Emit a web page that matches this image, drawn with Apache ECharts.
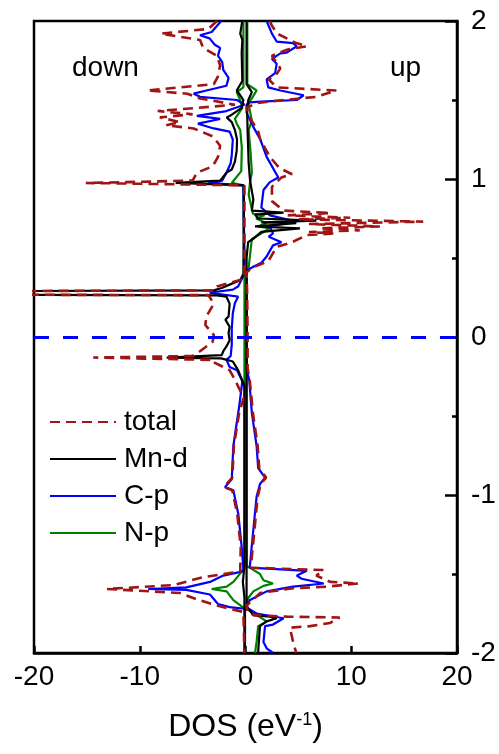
<!DOCTYPE html>
<html>
<head>
<meta charset="utf-8">
<script src="https://cdn.jsdelivr.net/npm/echarts/dist/echarts.min.js"></script>
<style>
  html, body { margin: 0; padding: 0; background: #fff; }
  #container { width: 499px; height: 754px; }
</style>
</head>
<body>
<div id="container"></div>
<script>
// DOS curves, each point is [DOS (eV^-1), energy (eV)], ordered from top to bottom
var totalUp = [[2.3, 2.0], [2.5, 1.97], [3.0, 1.92], [4.8, 1.86], [5.8, 1.84], [4.0, 1.82], [2.5, 1.78], [3.3, 1.70], [2.9, 1.66], [2.2, 1.63], [2.95, 1.58], [8.6, 1.56], [6.7, 1.52], [3.6, 1.50], [1.0, 1.48], [0.1, 1.45], [0.4, 1.39], [1.2, 1.30], [1.4, 1.25], [2.3, 1.14], [3.2, 1.07], [4.4, 1.03], [3.4, 1.01], [2.5, 0.95], [2.5, 0.86], [3.6, 0.80], [8.0, 0.785], [4.0, 0.77], [9.9, 0.755], [5.0, 0.745], [16.8, 0.73], [6.0, 0.715], [12.7, 0.70], [7.0, 0.688], [10.8, 0.675], [6.0, 0.665], [8.3, 0.655], [5.8, 0.645], [4.4, 0.60], [2.95, 0.57], [2.15, 0.48], [0.7, 0.44], [0.1, 0.41], [0.15, 0.3], [0.2, 0.0], [0.2, -0.2], [0.4, -0.27], [0.7, -0.48], [1.15, -0.69], [1.3, -0.83], [1.95, -0.89], [1.45, -0.93], [1.15, -1.01], [0.85, -1.22], [0.5, -1.46], [7.4, -1.475], [6.7, -1.51], [8.0, -1.55], [10.7, -1.56], [7.7, -1.58], [4.5, -1.59], [1.4, -1.62], [0.1, -1.70], [0.2, -1.74], [0.74, -1.76], [3.9, -1.77], [8.9, -1.775], [8.0, -1.81], [6.1, -1.83], [4.2, -1.84], [4.5, -1.93], [4.8, -2.0]];
var totalDown = [[-2.7, 2.0], [-3.5, 1.95], [-8.0, 1.92], [-4.3, 1.88], [-4.0, 1.83], [-2.7, 1.78], [-2.4, 1.72], [-2.6, 1.65], [-3.0, 1.60], [-9.3, 1.56], [-5.5, 1.54], [-4.3, 1.51], [-1.0, 1.47], [-8.3, 1.43], [-5.0, 1.41], [-8.1, 1.39], [-6.2, 1.36], [-7.5, 1.34], [-4.9, 1.32], [-3.1, 1.27], [-2.4, 1.21], [-2.6, 1.14], [-3.1, 1.08], [-4.6, 1.04], [-5.0, 0.99], [-15.1, 0.975], [-0.1, 0.96], [-0.1, 0.37], [-0.5, 0.36], [-2.7, 0.32], [-3.0, 0.295], [-26, 0.29], [-26, 0.268], [-3.5, 0.265], [-3.0, 0.21], [-3.7, 0.13], [-3.8, 0.076], [-3.0, 0.013], [-3.1, -0.03], [-4.3, -0.09], [-5.0, -0.12], [-14.4, -0.13], [-3.0, -0.145], [-3.0, -0.16], [-1.5, -0.21], [-1.0, -0.27], [-0.5, -0.34], [-0.2, -0.39], [-0.6, -0.48], [-1.1, -0.69], [-1.25, -0.89], [-2.05, -0.95], [-1.25, -0.97], [-0.78, -1.12], [-0.45, -1.33], [-0.5, -1.485], [-4.0, -1.52], [-6.8, -1.57], [-13.1, -1.595], [-6.2, -1.62], [-4.6, -1.66], [-2.7, -1.70], [-1.5, -1.72], [-0.2, -1.74], [-0.1, -2.0]];

var mnUp = [[0.1, 2.0], [0.1, 1.6], [0.6, 1.55], [0.27, 1.50], [0.15, 1.45], [0.2, 1.3], [0.3, 1.1], [0.43, 0.99], [0.74, 0.87], [0.6, 0.80], [3.6, 0.787], [0.9, 0.775], [1.2, 0.75], [6.7, 0.736], [1.5, 0.725], [4.8, 0.72], [0.9, 0.70], [5.15, 0.688], [1.5, 0.665], [0.7, 0.62], [0.25, 0.60], [0.1, 0.5], [0.1, -1.7], [0.27, -1.72], [0.74, -1.76], [2.3, -1.77], [2.95, -1.78], [2.0, -1.80], [1.37, -1.83], [1.2, -1.99], [1.2, -2.0]];
var mnDown = [[-0.3, 2.0], [-0.5, 1.92], [-0.3, 1.88], [-0.36, 1.80], [-0.3, 1.62], [-0.83, 1.56], [-0.5, 1.53], [-0.2, 1.50], [-0.36, 1.45], [-1.47, 1.40], [-1.78, 1.39], [-1.3, 1.36], [-1.0, 1.31], [-0.8, 1.25], [-0.83, 1.18], [-1.0, 1.11], [-1.3, 1.06], [-1.8, 1.04], [-2.4, 0.99], [-6.6, 0.975], [-0.15, 0.96], [-0.2, 0.40], [-0.5, 0.36], [-2.25, 0.31], [-3.0, 0.295], [-26, 0.29], [-26, 0.268], [-2.7, 0.264], [-1.8, 0.255], [-1.5, 0.21], [-1.6, 0.13], [-1.9, 0.11], [-1.5, 0.065], [-1.6, 0.025], [-1.5, -0.02], [-1.8, -0.06], [-2.1, -0.09], [-2.25, -0.115], [-7.45, -0.13], [-2.3, -0.135], [-1.2, -0.155], [-0.7, -0.21], [-0.1, -0.31], [-0.1, -1.45], [-0.25, -1.55], [-0.1, -1.65], [-0.1, -2.0]];

var cUp = [[2.0, 2.0], [2.5, 1.92], [2.95, 1.87], [4.5, 1.86], [4.85, 1.84], [3.9, 1.80], [3.3, 1.795], [2.5, 1.76], [2.95, 1.73], [2.8, 1.67], [2.0, 1.63], [2.15, 1.58], [3.3, 1.56], [5.5, 1.53], [4.85, 1.50], [1.4, 1.49], [0.4, 1.485], [0.1, 1.47], [0.1, 1.42], [0.74, 1.33], [1.4, 1.25], [2.0, 1.14], [3.1, 1.01], [2.3, 0.98], [1.7, 0.93], [1.5, 0.82], [2.3, 0.77], [4.8, 0.73], [3.9, 0.72], [2.3, 0.70], [2.6, 0.656], [2.2, 0.635], [3.4, 0.60], [2.6, 0.58], [2.0, 0.51], [1.5, 0.47], [0.74, 0.445], [0.1, 0.42], [0.1, -0.2], [0.35, -0.27], [0.6, -0.48], [1.05, -0.69], [1.2, -0.83], [1.85, -0.89], [1.37, -0.93], [1.05, -1.01], [0.74, -1.22], [0.4, -1.46], [5.8, -1.48], [4.85, -1.51], [5.3, -1.53], [7.4, -1.56], [4.5, -1.58], [2.0, -1.61], [0.43, -1.665], [0.05, -1.71], [1.05, -1.75], [3.6, -1.78], [2.6, -1.82], [1.85, -1.83], [1.7, -1.93], [2.0, -1.97], [2.6, -2.0]];
var cDown = [[-2.3, 2.0], [-3.2, 1.93], [-4.3, 1.91], [-3.4, 1.89], [-2.9, 1.85], [-2.4, 1.83], [-2.6, 1.78], [-2.2, 1.74], [-2.1, 1.69], [-1.6, 1.64], [-1.8, 1.59], [-3.7, 1.56], [-4.9, 1.54], [-4.3, 1.52], [-0.8, 1.50], [-0.1, 1.47], [-1.8, 1.43], [-4.6, 1.40], [-2.4, 1.38], [-4.5, 1.35], [-3.0, 1.32], [-1.5, 1.30], [-1.2, 1.25], [-1.3, 1.15], [-1.4, 1.10], [-1.8, 1.04], [-2.2, 0.99], [-3.5, 0.975], [-0.2, 0.96], [-0.1, 0.40], [-0.7, 0.32], [-1.2, 0.30], [-3.4, 0.28], [-0.7, 0.255], [-1.0, 0.215], [-1.2, 0.15], [-1.3, 0.05], [-1.3, -0.05], [-1.4, -0.12], [-1.8, -0.145], [-1.5, -0.19], [-0.8, -0.21], [-0.3, -0.28], [-0.6, -0.44], [-1.15, -0.69], [-1.3, -0.9], [-1.94, -0.95], [-1.15, -0.97], [-0.68, -1.12], [-0.36, -1.33], [-0.2, -1.47], [-0.36, -1.485], [-2.1, -1.51], [-3.36, -1.55], [-5.6, -1.585], [-9.2, -1.595], [-5.6, -1.60], [-3.36, -1.63], [-2.6, -1.69], [-1.5, -1.71], [-0.05, -1.72], [-0.05, -2.0]];

var nUp = [[0.17, 2.0], [0.17, 1.6], [1.05, 1.56], [0.6, 1.51], [0.27, 1.48], [0.6, 1.37], [0.3, 1.31], [0.5, 1.15], [0.6, 1.04], [0.43, 0.98], [0.3, 0.9], [0.7, 0.78], [1.8, 0.77], [1.0, 0.75], [2.0, 0.72], [1.2, 0.70], [2.3, 0.688], [0.6, 0.62], [0.4, 0.5], [0.3, 0.44], [0.1, 0.4], [0.1, -1.45], [0.4, -1.46], [1.37, -1.50], [1.7, -1.54], [2.6, -1.56], [1.7, -1.575], [0.74, -1.61], [0.27, -1.65], [0.1, -1.72], [2.0, -1.80], [1.2, -1.83], [1.05, -1.93], [0.9, -2.0]];
var nDown = [[-0.2, 2.0], [-0.2, 1.6], [-0.2, 1.58], [-0.83, 1.55], [-0.5, 1.50], [-0.3, 1.45], [-1.0, 1.38], [-0.83, 1.35], [-0.5, 1.31], [-0.35, 1.2], [-0.4, 1.05], [-1.3, 0.975], [-0.2, 0.96], [-0.1, 0.5], [-0.1, -1.47], [-0.36, -1.485], [-1.15, -1.55], [-1.78, -1.58], [-3.2, -1.595], [-1.78, -1.61], [-1.15, -1.665], [-0.05, -1.72], [-0.05, -2.0]];

var names = ['total', 'Mn-d', 'C-p', 'N-p'];
var xTicks = [-20, -10, 0, 10, 20];
var yTicks = [-2, -1, 0, 1, 2];

var FONT = '"Liberation Sans", Arial, sans-serif';
var dom = document.getElementById('container');
var myChart = echarts.init(dom);

function curve(name, data, color, dashed) {
  return {
    type: 'line',
    name: name,
    data: data,
    symbol: 'none',
    showSymbol: false,
    clip: true,
    lineStyle: { color: color, width: dashed ? 2.6 : 2.2, type: dashed ? [10, 6] : 'solid' },
    itemStyle: { color: color }
  };
}

var series = [
  curve('N-p', nUp, '#008000'),
  curve('N-p', nDown, '#008000'),
  curve('C-p', cUp, '#0000ff'),
  curve('C-p', cDown, '#0000ff'),
  curve('Mn-d', mnUp, '#000000'),
  curve('Mn-d', mnDown, '#000000'),
  curve('total', totalUp, '#a01414', true),
  curve('total', totalDown, '#a01414', true)
];
// Fermi level
series[0].markLine = {
  silent: true,
  symbol: 'none',
  label: { show: false },
  lineStyle: { color: '#0000ff', width: 3, type: [15, 14] },
  data: [{ yAxis: 0 }]
};

var option = {
  backgroundColor: '#fff',
  animation: false,
  textStyle: { fontFamily: FONT },
  grid: {
    left: 34, right: 42, top: 21, bottom: 101,
    show: true, borderColor: '#000', borderWidth: 2.5
  },
  legend: {
    data: names,
    orient: 'vertical',
    left: 49, top: 408,
    padding: 0,
    itemWidth: 66, itemHeight: 14, itemGap: 9,
    itemStyle: { opacity: 0, borderWidth: 0 },
    textStyle: { fontSize: 28, lineHeight: 28, color: '#000', fontFamily: FONT, padding: [0, 0, 0, 3] }
  },
  xAxis: {
    type: 'value',
    min: xTicks[0], max: xTicks[xTicks.length - 1], interval: 10,
    axisLine: { onZero: false, lineStyle: { color: '#000', width: 2.5 } },
    axisTick: { inside: true, length: 7, lineStyle: { width: 2.5, color: '#000' } },
    splitLine: { show: false },
    axisLabel: { fontSize: 28, color: '#000', margin: 10, fontFamily: FONT },
    name: 'DOS (eV{sup|-1})',
    nameLocation: 'middle',
    nameGap: 58,
    nameTextStyle: {
      fontSize: 32, color: '#000', fontFamily: FONT,
      rich: { sup: { fontSize: 18, verticalAlign: 'top', color: '#000', fontFamily: FONT, padding: [0, 0, 14, 0] } }
    }
  },
  yAxis: {
    type: 'value',
    position: 'right',
    min: yTicks[0], max: yTicks[yTicks.length - 1], interval: 1,
    axisLine: { show: true, onZero: false, lineStyle: { color: '#000', width: 2.5 } },
    axisTick: { show: true, inside: true, length: 12, lineStyle: { width: 2.5, color: '#000' } },
    minorTick: { show: true, splitNumber: 2, length: 5, lineStyle: { width: 2.5, color: '#000' } },
    splitLine: { show: false },
    axisLabel: { fontSize: 28, color: '#000', margin: 14, fontFamily: FONT }
  },
  graphic: [
    { type: 'text', x: 72, y: 68, style: { text: 'down', font: '28px ' + FONT, fill: '#000', verticalAlign: 'middle' } },
    { type: 'text', x: 390, y: 68, style: { text: 'up', font: '28px ' + FONT, fill: '#000', verticalAlign: 'middle' } }
  ],
  series: series
};

myChart.setOption(option);
</script>
</body>
</html>
